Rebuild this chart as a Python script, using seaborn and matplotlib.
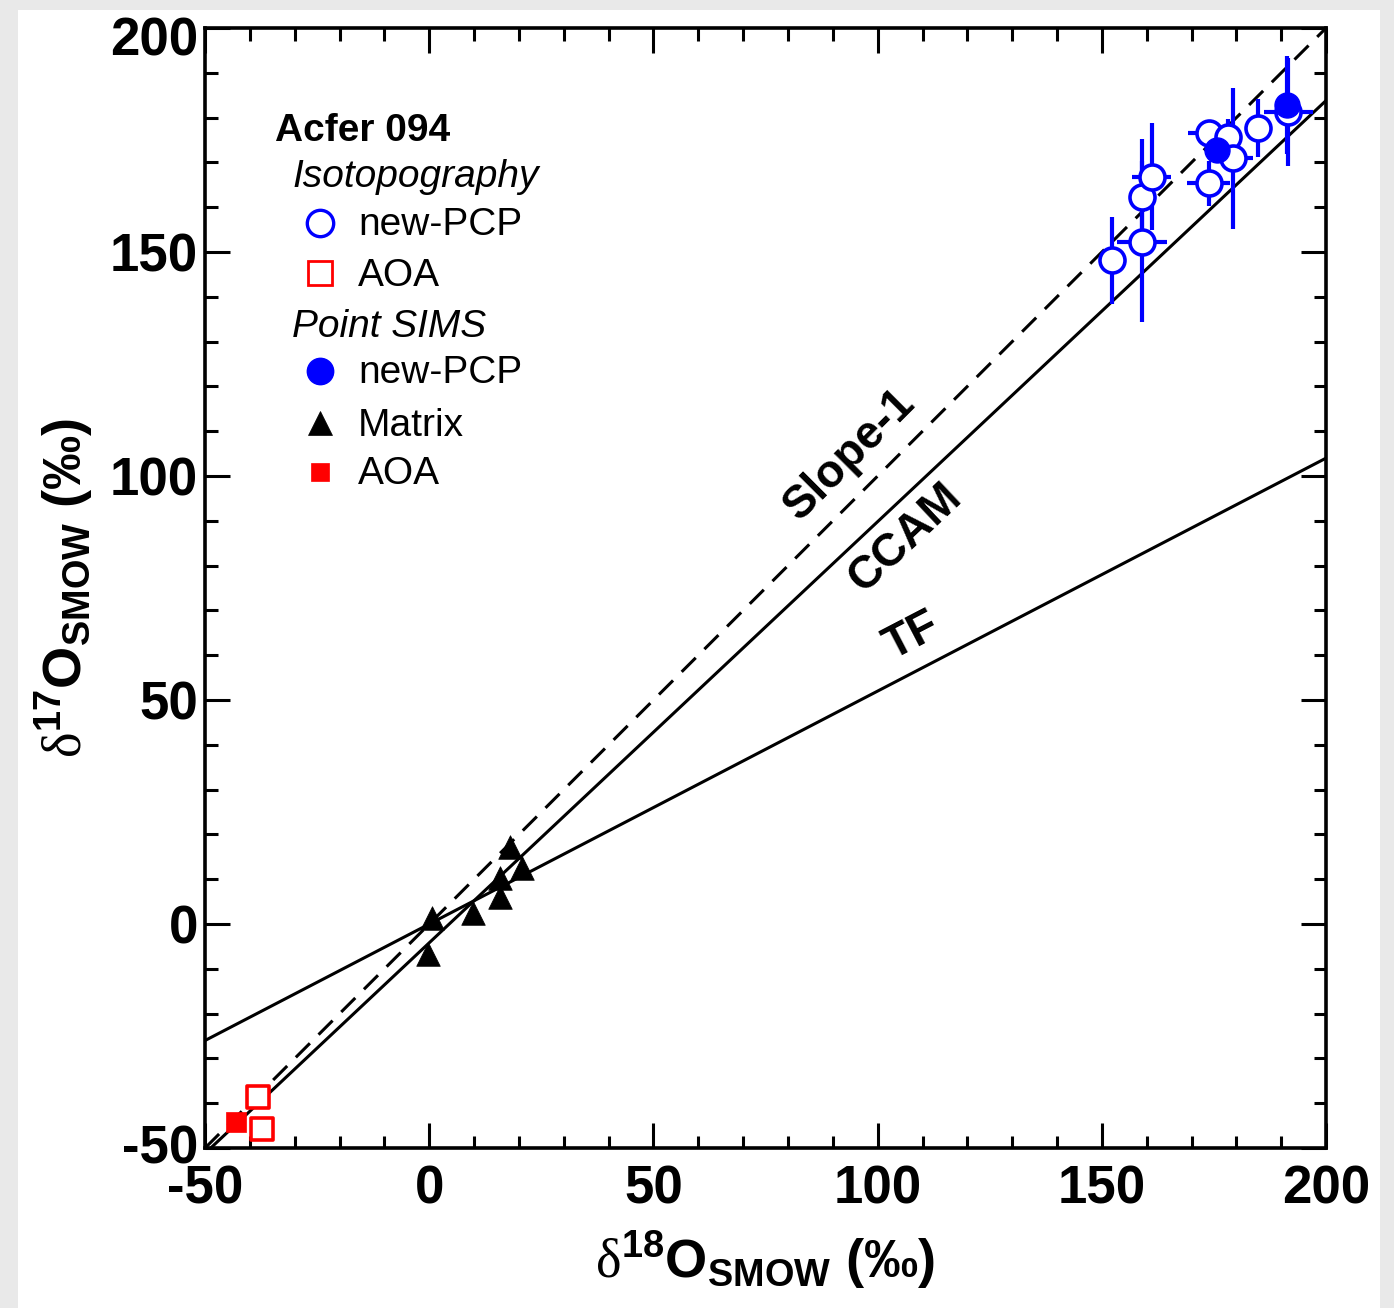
import numpy as np
import matplotlib
matplotlib.use('Agg')
import matplotlib.pyplot as plt
import matplotlib.transforms as mtrans
from matplotlib.patches import Rectangle
from matplotlib.ticker import MultipleLocator
import seaborn as sns

# Isotopography new-PCP (open blue circles)
iso_pcp_x = [152.2, 158.9, 158.9, 161.1, 173.8, 173.8, 178.2, 179.3, 184.9, 191.6]
iso_pcp_y = [148.2, 152.3, 162.3, 166.8, 165.3, 176.5, 175.7, 170.9, 177.6, 181.3]
iso_pcp_xerr = [2.0, 5.6, 2.0, 4.3, 4.8, 4.7, 2.0, 4.5, 2.0, 5.4]
iso_pcp_yerr = [9.7, 18.0, 13.0, 12.0, 5.0, 3.0, 4.0, 15.8, 6.5, 12.0]

# Isotopography AOA (open red squares)
iso_aoa_x = [-38.1, -37.4]
iso_aoa_y = [-38.5, -45.8]

# Point SIMS new-PCP (filled blue circles)
sims_pcp_x = [175.6, 191.2]
sims_pcp_y = [172.8, 182.8]
sims_pcp_xerr = [2.0, 2.0]
sims_pcp_yerr = [3.0, 11.0]

# Point SIMS matrix (black triangles)
matrix_x = [0.6, -0.2, 9.8, 15.8, 15.8, 18.0, 20.6]
matrix_y = [1.3, -6.8, 2.5, 6.1, 10.2, 17.1, 12.4]

# Point SIMS AOA (filled red square)
sims_aoa_x = [-43.1]
sims_aoa_y = [-44.3]

# reference lines
line_names = ['Slope-1', 'CCAM', 'TF']
line_slopes = [1.0, 0.94, 0.52]
line_intercepts = [0.0, -4.18, 0.0]

sns.set_theme(style='ticks')
plt.rcParams['font.family'] = ['Liberation Sans', 'DejaVu Sans']
plt.rcParams['text.color'] = 'black'
plt.rcParams['axes.labelcolor'] = 'black'
plt.rcParams['xtick.color'] = 'black'
plt.rcParams['ytick.color'] = 'black'
plt.rcParams['axes.unicode_minus'] = False
plt.rcParams['mathtext.fontset'] = 'custom'
plt.rcParams['mathtext.rm'] = 'Liberation Serif'
plt.rcParams['mathtext.bf'] = 'Liberation Sans:bold'

fig = plt.figure(figsize=(13.94, 13.08), dpi=100, facecolor='#e9e9e9')
# white page on a grey background
fig.patches.append(Rectangle((18 / 1394, 0), 1362 / 1394, 1 - 10 / 1308,
                             transform=fig.transFigure, facecolor='white',
                             edgecolor='none', zorder=-10))
ax = fig.add_axes([0.1471, 0.1223, 0.8042, 0.8563])
ax.set_facecolor('white')

xs = np.array([-50, 200])
for name, m, b in zip(line_names, line_slopes, line_intercepts):
    ls = '--' if name == 'Slope-1' else '-'
    ln, = ax.plot(xs, m * xs + b, color='black', lw=2.2, ls=ls, zorder=2)
    if ls == '--':
        ln.set_dashes((6.5, 4))

label_pos = {'Slope-1': (93.8, 104.7), 'CCAM': (106.1, 86.2), 'TF': (107.7, 64.1)}
for name, m in zip(line_names, line_slopes):
    px, py = label_pos[name]
    ax.text(px, py, name, rotation=np.degrees(np.arctan(m)), ha='center', va='center',
            rotation_mode='anchor', fontsize=33, fontweight='bold', color='black')

ax.errorbar(iso_pcp_x, iso_pcp_y, xerr=iso_pcp_xerr, yerr=iso_pcp_yerr, fmt='none',
            ecolor='blue', elinewidth=3, capsize=0, zorder=3)
ax.errorbar(sims_pcp_x, sims_pcp_y, xerr=sims_pcp_xerr, yerr=sims_pcp_yerr, fmt='none',
            ecolor='blue', elinewidth=3, capsize=0, zorder=3)

sns.scatterplot(x=iso_pcp_x, y=iso_pcp_y, marker='o', s=18 ** 2, color='white',
                edgecolor='blue', linewidth=2.6, zorder=4, ax=ax)
sns.scatterplot(x=sims_pcp_x, y=sims_pcp_y, marker='o', s=18 ** 2, color='blue',
                edgecolor='blue', linewidth=1, zorder=5, ax=ax)
sns.scatterplot(x=matrix_x, y=matrix_y, marker='^', s=17 ** 2, color='black',
                edgecolor='black', linewidth=0.5, zorder=4, ax=ax)
sns.scatterplot(x=iso_aoa_x, y=iso_aoa_y, marker='s', s=16 ** 2, color='white',
                edgecolor='red', linewidth=2.6, zorder=4, ax=ax)
sns.scatterplot(x=sims_aoa_x, y=sims_aoa_y, marker='s', s=14 ** 2, color='red',
                edgecolor='red', linewidth=0.5, zorder=5, ax=ax)

ax.set_xlim(-50, 200)
ax.set_ylim(-50, 200)
ax.xaxis.set_major_locator(MultipleLocator(50))
ax.yaxis.set_major_locator(MultipleLocator(50))
ax.xaxis.set_minor_locator(MultipleLocator(10))
ax.yaxis.set_minor_locator(MultipleLocator(10))
ax.tick_params(which='both', direction='in', top=True, right=True, width=2.2,
               color='black', labelcolor='black')
ax.tick_params(which='major', length=18)
ax.tick_params(which='minor', length=9)
ax.tick_params(axis='x', which='major', pad=12, labelsize=38)
ax.tick_params(axis='y', which='major', pad=5, labelsize=38)
for lab in ax.get_xticklabels() + ax.get_yticklabels():
    lab.set_fontweight('bold')
for sp in ax.spines.values():
    sp.set_linewidth(2.6)
    sp.set_color('black')

ax.set_xlabel(r'$\mathrm{\delta}^{\mathbf{18}}\mathbf{O}_{\mathbf{SMOW}}$ (‰)',
              fontsize=39, fontweight='bold', labelpad=10, color='black')
ax.set_ylabel(r'$\mathrm{\delta}^{\mathbf{17}}\mathbf{O}_{\mathbf{SMOW}}$ (‰)',
              fontsize=39, fontweight='bold', labelpad=10, color='black')

# legend drawn by hand in axes coordinates
tr = ax.transAxes
ax.text(0.0624, 0.908, 'Acfer 094', transform=tr, fontsize=28, fontweight='bold', va='center')
ax.text(0.0776, 0.867, 'Isotopography', transform=tr, fontsize=28, style='italic', va='center')
ax.text(0.0776, 0.733, 'Point SIMS', transform=tr, fontsize=28, style='italic', va='center')
leg_rows = [
    (0.826, 'o', 'white', 'blue', 19, 2.4, 'new-PCP'),
    (0.781, 's', 'white', 'red', 17, 2.0, 'AOA'),
    (0.694, 'o', 'blue', 'blue', 19, 1.0, 'new-PCP'),
    (0.647, '^', 'black', 'black', 17, 0.5, 'Matrix'),
    (0.604, 's', 'red', 'red', 13, 0.5, 'AOA'),
]
for yy, mk, fc, ec, ms, mew, txt in leg_rows:
    ax.plot([0.1026], [yy], marker=mk, ms=ms, mfc=fc, mec=ec, mew=mew,
            transform=tr, ls='none', clip_on=False)
    ax.text(0.1365, yy - 0.002, txt, transform=tr, fontsize=28, va='center')

# nudge the end labels of the y axis like the original
fig.canvas.draw()
for tk in ax.yaxis.get_major_ticks():
    loc = tk.get_loc()
    if np.isclose(loc, 200):
        dy = -8
    elif np.isclose(loc, -50):
        dy = 4
    else:
        continue
    tk.label1.set_transform(tk.label1.get_transform() +
                            mtrans.ScaledTranslation(0, dy / 100, fig.dpi_scale_trans))

fig.savefig('out.png', dpi=100, facecolor=fig.get_facecolor())
